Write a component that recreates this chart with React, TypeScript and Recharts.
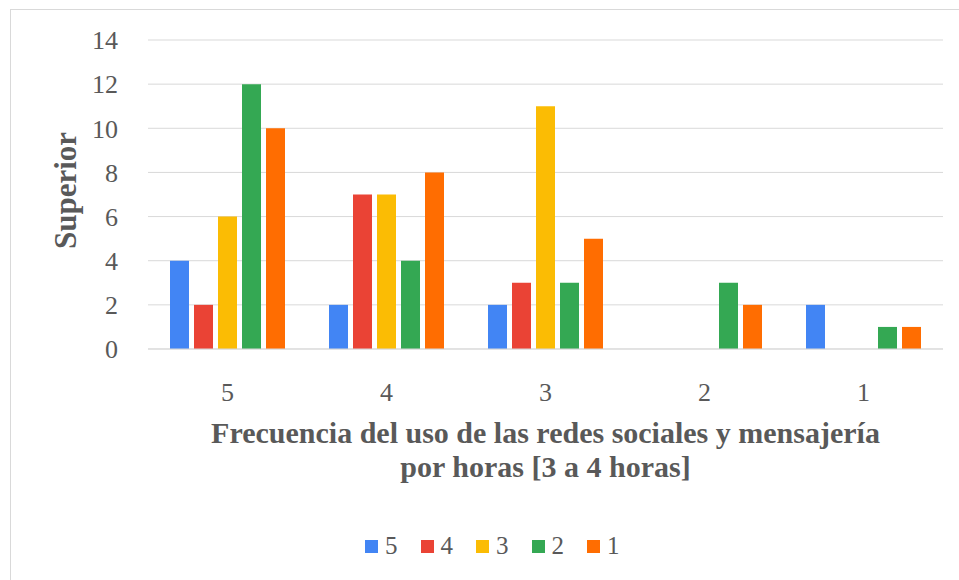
import { BarChart, Bar, XAxis, YAxis, CartesianGrid } from "recharts";

const categories = ["5", "4", "3", "2", "1"];
const seriesNames = ["5", "4", "3", "2", "1"];
const s5 = [4, 2, 2, 0, 2];
const s4 = [2, 7, 3, 0, 0];
const s3 = [6, 7, 11, 0, 0];
const s2 = [12, 4, 3, 3, 1];
const s1 = [10, 8, 5, 2, 1];
const yTicks = [0, 2, 4, 6, 8, 10, 12, 14];
const colors = ["#4285F4", "#EA4335", "#FBBC04", "#34A853", "#FF6D01"];

const seriesValues = [s5, s4, s3, s2, s1];
const data = categories.map((cat, i) => {
  const row: Record<string, string | number> = { cat };
  seriesNames.forEach((name, j) => {
    row["s" + name] = seriesValues[j][i];
  });
  return row;
});

const FONT = "Liberation Serif, DejaVu Serif, serif";
const TEXT = "#595959";
const GRID = "#d9d9d9";

function YTitle(props: any) {
  const vb = props.viewBox;
  const cx = 65;
  const cy = vb.y + vb.height / 2 - 4;
  return (
    <text
      x={cx}
      y={cy}
      transform={`rotate(-90 ${cx} ${cy})`}
      textAnchor="middle"
      dominantBaseline="central"
      fontFamily={FONT}
      fontWeight="bold"
      fontSize={31}
      fill={TEXT}
    >
      Superior
    </text>
  );
}

function XTitle(props: any) {
  const vb = props.viewBox;
  const cx = vb.x + vb.width / 2;
  return (
    <text textAnchor="middle" fontFamily={FONT} fontWeight="bold" fontSize={30} fill={TEXT}>
      <tspan x={cx} y={443}>Frecuencia del uso de las redes sociales y mensajería</tspan>
      <tspan x={cx} y={477}>por horas [3 a 4 horas]</tspan>
    </text>
  );
}

export default function App() {
  return (
    <div style={{ position: "absolute", left: 0, top: 0, width: 959, height: 580, background: "#fff" }}>
      <div
        style={{
          position: "absolute",
          left: 10,
          top: 9,
          width: 960,
          height: 580,
          border: `1px solid ${GRID}`,
          boxSizing: "border-box",
        }}
      />
      <div style={{ position: "absolute", left: 0, top: 0 }}>
        <BarChart
          width={959}
          height={580}
          data={data}
          margin={{ top: 40, right: 16, left: 88, bottom: 151 }}
          barSize={19}
          barGap={5}
        >
          <CartesianGrid vertical={false} stroke={GRID} />
          <XAxis
            dataKey="cat"
            height={80}
            tickLine={false}
            axisLine={{ stroke: GRID }}
            tickSize={0}
            tickMargin={34}
            tick={{ fontSize: 26, fill: TEXT, fontFamily: FONT }}
            label={{ content: XTitle }}
          />
          <YAxis
            width={60}
            domain={[0, 14]}
            ticks={yTicks}
            axisLine={false}
            tickLine={false}
            tickSize={0}
            tickMargin={30}
            tick={{ fontSize: 26, fill: TEXT, fontFamily: FONT }}
            label={{ content: YTitle }}
          />
          {seriesNames.map((name, j) => (
            <Bar key={name} dataKey={"s" + name} name={name} fill={colors[j]} isAnimationActive={false} />
          ))}
        </BarChart>
      </div>
      <div
        style={{
          position: "absolute",
          left: 365,
          top: 532,
          display: "flex",
          alignItems: "center",
          fontFamily: FONT,
          fontSize: 25,
          color: TEXT,
        }}
      >
        {seriesNames.map((name, j) => (
          <div key={name} style={{ display: "flex", alignItems: "center", marginRight: 23 }}>
            <span style={{ display: "inline-block", width: 13, height: 13, background: colors[j], marginRight: 7 }} />
            <span>{name}</span>
          </div>
        ))}
      </div>
    </div>
  );
}
